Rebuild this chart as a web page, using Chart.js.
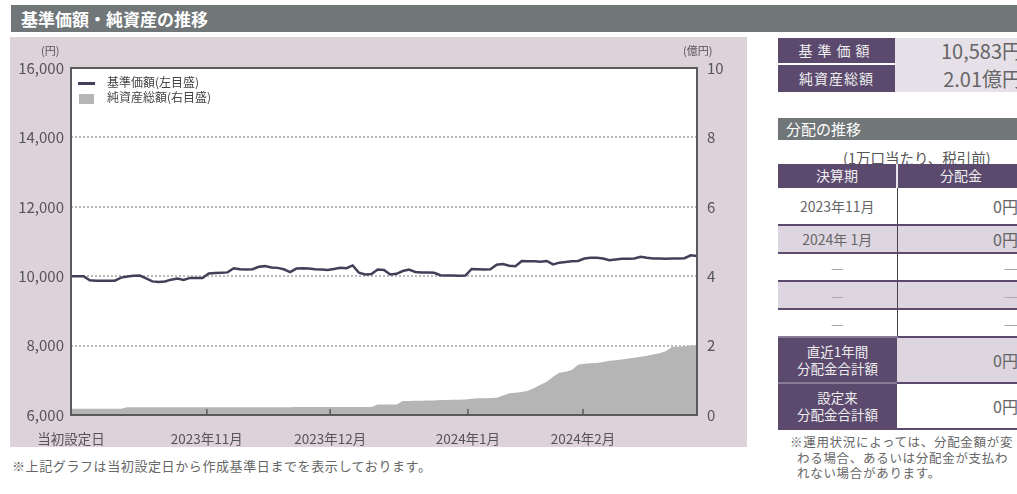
<!DOCTYPE html>
<html>
<head>
<meta charset="utf-8">
<title>基準価額・純資産の推移</title>
<script src="https://cdn.jsdelivr.net/npm/chart.js"></script>
<style>
    body {
        margin: 0;
        width: 1017px;
        height: 494px;
        overflow: hidden;
        position: relative;
        background: #fff;
        font-family: "Noto Sans CJK JP", sans-serif;
        color: #555;
    }
    .abs { position: absolute; }
    .bar {
        position: absolute;
        background: #717678;
        color: #fff;
        box-sizing: border-box;
        white-space: nowrap;
    }
    #titleBar { left: 11px; top: 5px; width: 1006px; height: 27px; font-size: 17px; font-weight: bold; line-height: 27px; padding-left: 10px; }
    #panel { left: 10px; top: 37px; width: 737px; height: 410px; background: #ddd1da; }
    #chartBox { left: 0; top: 0; width: 737px; height: 410px; }
    .unit { position: absolute; font-size: 11px; color: #555; }
    #legend { left: 78px; top: 74px; font-size: 12px; color: #444; line-height: 15px; }
    #legend .sw { display: inline-block; width: 17px; vertical-align: middle; margin-right: 12px; }
    #note1 { left: 12px; top: 456px; font-size: 13px; letter-spacing: 0.6px; color: #666; white-space: nowrap; }

    .lbl { position: absolute; background: #5c4a6e; color: #eee; text-align: center; box-sizing: border-box; }
    .val { position: absolute; background: #e6e0e8; color: #666; text-align: right; box-sizing: border-box; white-space: nowrap; }
    #distBar { left: 778px; top: 118px; width: 239px; height: 22px; font-size: 15px; line-height: 22px; padding-left: 8px; }
    #perUnit { left: 843px; top: 147px; font-size: 14.5px; color: #555; white-space: nowrap; }

    #dist { position: absolute; left: 778px; top: 164px; border-collapse: collapse; table-layout: fixed; width: 246px; font-size: 14px; }
    #dist td, #dist th { padding: 0; border-top: 2px solid #5c4a6e; }
    #dist th { background: #5c4a6e; color: #eee; font-weight: normal; height: 22px; border-top: none; }
    #dist th + th { border-left: 2px solid #e8e2ea; }
    #dist td { height: 26px; color: #666; }
    #dist td.c1 { text-align: center; border-right: 1.5px solid #444; }
    #dist td.c2 { text-align: right; padding-right: 6px; font-size: 16px; }
    #dist tr.shade td { background: #ddd5df; }
    #dist tr.dash td { color: #aaa; }
    #dist tr td.tot { background: #5c4a6e; color: #eee; text-align: center; line-height: 17px; font-size: 13.5px; height: 44px; border-right: none; border-top-color: #8a7b98; }
    #dist tr.last td { border-bottom: 2px solid #5c4a6e; }

    #note2 { left: 790px; top: 434px; font-size: 12.5px; letter-spacing: 0.7px; line-height: 15.5px; color: #666; white-space: nowrap; }
</style>
</head>
<body>
    <div id="titleBar" class="bar">基準価額・純資産の推移</div>

    <div id="panel" class="abs">
        <div id="chartBox" class="abs"><canvas id="navChart"></canvas></div>
    </div>
    <div class="unit" style="left:41px; top:42px;">(円)</div>
    <div class="unit" style="left:683px; top:42px;">(億円)</div>
    <div id="legend" class="abs">
        <div><span class="sw" style="height:3px; background:#443f58;"></span>基準価額(左目盛)</div>
        <div><span class="sw" style="height:10px; background:#b5b5b5; width:15px; margin-left:1px; margin-right:13px;"></span>純資産総額(右目盛)</div>
    </div>
    <div id="note1" class="abs">※上記グラフは当初設定日から作成基準日までを表示しております。</div>

    <div class="lbl" style="left:778px; top:38px; width:117px; height:25px; line-height:25px; font-size:14px; letter-spacing:5px;">基準価額</div>
    <div class="val" style="left:895px; top:38px; width:127px; height:54px;"></div>
    <div class="val" style="left:895px; top:38px; width:127px; height:25px; line-height:25px; font-size:20px; background:transparent;">10,583円</div>
    <div class="lbl" style="left:778px; top:65px; width:117px; height:27px; line-height:27px; font-size:14px; letter-spacing:1px;">純資産総額</div>
    <div class="val" style="left:895px; top:65px; width:127px; height:27px; line-height:27px; font-size:20px; background:transparent;">2.01億円</div>

    <div id="distBar" class="bar">分配の推移</div>
    <div id="perUnit" class="abs">(1万口当たり、税引前)</div>

    <table id="dist">
        <tr><th style="width:118px;">決算期</th><th>分配金</th></tr>
        <tr style="height:36px;"><td class="c1" style="height:36px;">2023年11月</td><td class="c2">0円</td></tr>
        <tr class="shade"><td class="c1">2024年 1月</td><td class="c2">0円</td></tr>
        <tr class="dash"><td class="c1">—</td><td class="c2">—</td></tr>
        <tr class="shade dash"><td class="c1">—</td><td class="c2">—</td></tr>
        <tr class="dash"><td class="c1">—</td><td class="c2">—</td></tr>
        <tr class="shade"><td class="c1 tot">直近1年間<br>分配金合計額</td><td class="c2">0円</td></tr>
        <tr class="last"><td class="c1 tot">設定来<br>分配金合計額</td><td class="c2">0円</td></tr>
    </table>

    <div id="note2" class="abs">※運用状況によっては、分配金額が変<br>&nbsp;&nbsp;わる場合、あるいは分配金が支払わ<br>&nbsp;&nbsp;れない場合があります。</div>

    <script>
        // x positions are business-day indexes from the launch date (0) to the base date (100)
        const xTickLabels = ['当初設定日', '2023年11月', '2023年12月', '2024年1月', '2024年2月'];
        const xTickPos = [0, 21.7, 41.4, 63.4, 81.8];

        // 基準価額 (円), left axis
        const navValues = [
            10000, 10000, 10000, 9880, 9870, 9870, 9870, 9870, 9960, 9990,
            10010, 10020, 9940, 9850, 9830, 9850, 9900, 9930, 9890, 9950,
            9950, 9950, 10080, 10090, 10100, 10110, 10230, 10200, 10190, 10200,
            10270, 10290, 10250, 10240, 10200, 10120, 10220, 10230, 10220, 10200,
            10190, 10180, 10210, 10240, 10230, 10310, 10100, 10050, 10060, 10190,
            10180, 10050, 10070, 10150, 10190, 10120, 10110, 10110, 10100, 10030,
            10020, 10020, 10010, 10020, 10210, 10200, 10190, 10200, 10330, 10350,
            10300, 10290, 10440, 10430, 10430, 10420, 10440, 10340, 10390, 10410,
            10430, 10440, 10510, 10530, 10530, 10510, 10460, 10480, 10500, 10500,
            10510, 10560, 10530, 10510, 10510, 10500, 10510, 10510, 10520, 10600,
            10583
        ];

        // 純資産総額 (億円), right axis
        const aumValues = [
            0.18, 0.18, 0.18, 0.18, 0.18, 0.18, 0.18, 0.18, 0.18, 0.22,
            0.22, 0.22, 0.22, 0.22, 0.22, 0.22, 0.22, 0.22, 0.22, 0.22,
            0.22, 0.22, 0.22, 0.22, 0.22, 0.22, 0.22, 0.22, 0.22, 0.22,
            0.22, 0.22, 0.22, 0.22, 0.22, 0.22, 0.23, 0.23, 0.23, 0.23,
            0.23, 0.23, 0.23, 0.23, 0.23, 0.23, 0.23, 0.23, 0.23, 0.30,
            0.30, 0.30, 0.30, 0.40, 0.40, 0.41, 0.41, 0.42, 0.42, 0.43,
            0.43, 0.44, 0.44, 0.45, 0.47, 0.48, 0.48, 0.49, 0.50, 0.56,
            0.63, 0.64, 0.66, 0.70, 0.78, 0.87, 0.96, 1.10, 1.22, 1.25,
            1.30, 1.45, 1.48, 1.49, 1.50, 1.53, 1.56, 1.58, 1.60, 1.63,
            1.65, 1.68, 1.71, 1.74, 1.78, 1.84, 1.96, 1.97, 1.98, 2.00,
            2.01
        ];

        const tickFont = { family: '"Noto Sans CJK JP", sans-serif', size: 14 };

        // white plot area, inward x tick marks and the dark frame
        const frame = {
            id: 'frame',
            beforeDraw(chart) {
                const { ctx, chartArea: a } = chart;
                ctx.save();
                ctx.fillStyle = '#fff';
                ctx.fillRect(a.left, a.top, a.width, a.height);
                ctx.restore();
            },
            afterDatasetsDraw(chart) {
                const { ctx, chartArea: a, scales } = chart;
                ctx.save();
                ctx.strokeStyle = '#5a5a5a';
                ctx.lineWidth = 1.5;
                xTickPos.slice(1).forEach(v => {
                    const px = scales.x.getPixelForValue(v);
                    ctx.beginPath();
                    ctx.moveTo(px, a.bottom);
                    ctx.lineTo(px, a.bottom - 6);
                    ctx.stroke();
                });
                ctx.lineWidth = 2;
                ctx.strokeRect(a.left, a.top, a.width, a.height);
                ctx.restore();
            }
        };

        new Chart(document.getElementById('navChart'), {
            type: 'line',
            data: {
                datasets: [{
                    label: '基準価額(左目盛)',
                    data: navValues.map((v, i) => ({ x: i, y: v })),
                    yAxisID: 'y',
                    borderColor: '#443f58',
                    borderWidth: 2.5,
                    pointRadius: 0,
                    tension: 0,
                    order: 1
                }, {
                    label: '純資産総額(右目盛)',
                    data: aumValues.map((v, i) => ({ x: i, y: v })),
                    yAxisID: 'y1',
                    borderWidth: 0,
                    backgroundColor: '#b5b5b5',
                    fill: 'origin',
                    pointRadius: 0,
                    tension: 0,
                    order: 2
                }]
            },
            options: {
                responsive: true,
                maintainAspectRatio: false,
                animation: false,
                layout: { padding: { top: 31 } },
                plugins: {
                    legend: { display: false },
                    tooltip: { enabled: false }
                },
                scales: {
                    x: {
                        type: 'linear',
                        min: 0,
                        max: 100,
                        afterBuildTicks: scale => {
                            scale.ticks = xTickPos.map(v => ({ value: v }));
                        },
                        afterFit: scale => { scale.height = 32; },
                        grid: { display: false },
                        border: { display: false },
                        ticks: {
                            autoSkip: false,
                            maxRotation: 0,
                            padding: 8,
                            color: '#555',
                            font: { family: tickFont.family, size: 13.5 },
                            callback: (v, i) => xTickLabels[i]
                        }
                    },
                    y: {
                        position: 'left',
                        min: 6000,
                        max: 16000,
                        afterFit: scale => { scale.width = 61; },
                        grid: {
                            drawTicks: false,
                            lineWidth: 2,
                            color: ctx => (ctx.tick.value === 6000 || ctx.tick.value === 16000) ? 'rgba(0,0,0,0)' : '#b9b9b9'
                        },
                        border: { display: false, dash: [2, 2] },
                        ticks: {
                            stepSize: 2000,
                            padding: 7,
                            color: '#555',
                            font: { family: tickFont.family, size: 15 },
                            callback: v => v.toLocaleString('en-US')
                        }
                    },
                    y1: {
                        position: 'right',
                        min: 0,
                        max: 10,
                        afterFit: scale => { scale.width = 50; },
                        grid: { display: false, drawTicks: false },
                        border: { display: false },
                        ticks: {
                            stepSize: 2,
                            padding: 10,
                            color: '#555',
                            font: { family: tickFont.family, size: 15 }
                        }
                    }
                }
            },
            plugins: [frame]
        });
    </script>
</body>
</html>
